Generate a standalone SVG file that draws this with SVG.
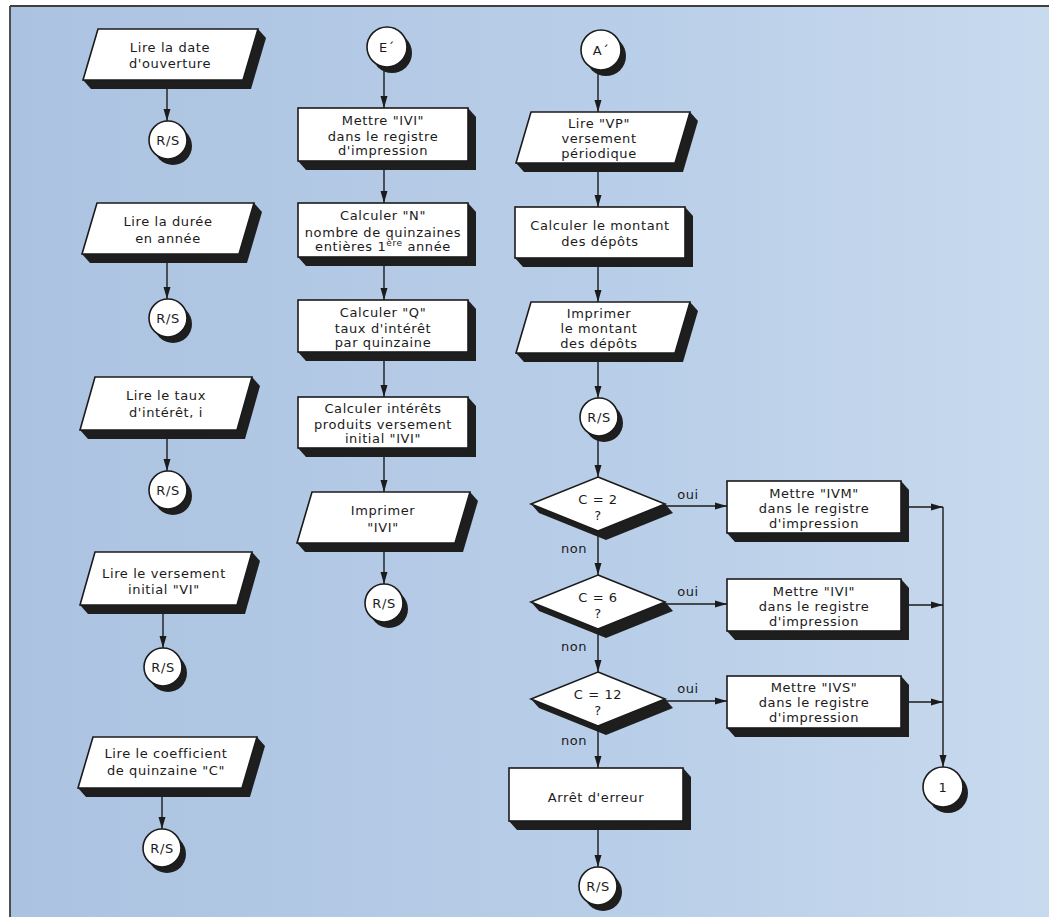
<svg xmlns="http://www.w3.org/2000/svg" width="1049" height="917" viewBox="0 0 1049 917">
<defs>
<linearGradient id="bg" x1="0" y1="0" x2="1" y2="0">
<stop offset="0" stop-color="#abc3e1"/>
<stop offset="0.6" stop-color="#b9cee8"/>
<stop offset="1" stop-color="#c8daee"/>
</linearGradient>
<marker id="ah" markerUnits="userSpaceOnUse" markerWidth="13" markerHeight="8" refX="12" refY="4" orient="auto">
<path d="M0,0.5 L12,4 L0,7.5 z" fill="#1b1b1b"/>
</marker>
<style>
.bx{fill:#fff;stroke:#1b1b1b;stroke-width:1.6}
.sh{fill:#1e1e1e}
.t{font-family:"DejaVu Sans",sans-serif;font-size:13px;letter-spacing:0.6px;fill:#1b1b1b;text-anchor:middle}
.lb{font-family:"DejaVu Sans",sans-serif;font-size:13px;letter-spacing:0.6px;fill:#1b1b1b;text-anchor:middle}
.c{stroke:#1b1b1b;stroke-width:1.4;fill:none;marker-end:url(#ah)}
.ln{stroke:#1b1b1b;stroke-width:1.4;fill:none}
</style>
</defs>
<rect x="0" y="0" width="1049" height="917" fill="#ffffff"/>
<rect x="10" y="6" width="1045" height="915" fill="url(#bg)"/>
<line x1="10" y1="6" x2="1049" y2="6" stroke="#3f3f3f" stroke-width="2"/>
<line x1="10" y1="6" x2="10" y2="917" stroke="#3f3f3f" stroke-width="1.8"/>

<g id="connectors">
<line class="c" x1="167" y1="80" x2="167" y2="121"/>
<line class="c" x1="167" y1="254" x2="167" y2="299"/>
<line class="c" x1="167" y1="430" x2="167" y2="471"/>
<line class="c" x1="163" y1="605" x2="163" y2="648"/>
<line class="c" x1="162" y1="788" x2="162" y2="829"/>
<line class="c" x1="384" y1="67" x2="384" y2="108"/>
<line class="c" x1="384" y1="161" x2="384" y2="203"/>
<line class="c" x1="384" y1="257" x2="384" y2="300"/>
<line class="c" x1="384" y1="352" x2="384" y2="397"/>
<line class="c" x1="384" y1="448" x2="384" y2="492"/>
<line class="c" x1="384" y1="543" x2="384" y2="584"/>
<line class="c" x1="598" y1="70" x2="598" y2="112"/>
<line class="c" x1="598" y1="163" x2="598" y2="207"/>
<line class="c" x1="598" y1="258" x2="598" y2="302"/>
<line class="c" x1="598" y1="353" x2="598" y2="398"/>
<line class="c" x1="598" y1="436" x2="598" y2="477"/>
<line class="c" x1="598" y1="531" x2="598" y2="575"/>
<line class="c" x1="598" y1="629" x2="598" y2="672"/>
<line class="c" x1="598" y1="726" x2="598" y2="768"/>
<line class="c" x1="598" y1="821" x2="598" y2="867"/>
<line class="c" x1="660" y1="506" x2="727" y2="506"/>
<line class="c" x1="660" y1="604" x2="727" y2="604"/>
<line class="c" x1="660" y1="701" x2="727" y2="701"/>
<line class="c" x1="901" y1="507" x2="943" y2="507"/>
<line class="c" x1="901" y1="605" x2="943" y2="605"/>
<line class="c" x1="901" y1="702" x2="943" y2="702"/>
<line class="c" x1="943" y1="507" x2="943" y2="767"/>
<text class="lb" x="688" y="499">oui</text>
<text class="lb" x="688" y="596">oui</text>
<text class="lb" x="688" y="693">oui</text>
<text class="lb" x="574" y="553">non</text>
<text class="lb" x="574" y="651">non</text>
<text class="lb" x="574" y="745">non</text>
</g>

<g id="l1">
<polygon class="sh" points="98,29 258,29 266,38 251,89 91,89 83,80"/>
<polygon class="bx" points="98,29 258,29 243,80 83,80"/>
<text class="t" x="170" y="51.5">Lire la date</text>
<text class="t" x="170" y="67.5">d'ouverture</text>
</g>
<g id="l1rs"><circle class="sh" cx="173" cy="146" r="19"/><circle class="bx" cx="168" cy="140" r="19"/><text class="t" x="168" y="144.5">R/S</text></g>

<g id="l2">
<polygon class="sh" points="97,203 254,203 262,212 247,263 90,263 82,254"/>
<polygon class="bx" points="97,203 254,203 239,254 82,254"/>
<text class="t" x="168" y="225.5">Lire la durée</text>
<text class="t" x="168" y="242.5">en année</text>
</g>
<g id="l2rs"><circle class="sh" cx="173" cy="324" r="19"/><circle class="bx" cx="168" cy="318" r="19"/><text class="t" x="168" y="322.5">R/S</text></g>

<g id="l3">
<polygon class="sh" points="95,377 252,377 260,386 245,439 88,439 80,430"/>
<polygon class="bx" points="95,377 252,377 237,430 80,430"/>
<text class="t" x="166" y="400">Lire le taux</text>
<text class="t" x="166" y="417">d'intérêt, i</text>
</g>
<g id="l3rs"><circle class="sh" cx="173" cy="496" r="19"/><circle class="bx" cx="168" cy="490" r="19"/><text class="t" x="168" y="494.5">R/S</text></g>

<g id="l4">
<polygon class="sh" points="95,552 252,552 260,561 245,614 88,614 80,605"/>
<polygon class="bx" points="95,552 252,552 237,605 80,605"/>
<text class="t" x="164" y="577.5">Lire le versement</text>
<text class="t" x="164" y="593.5">initial "VI"</text>
</g>
<g id="l4rs"><circle class="sh" cx="168" cy="673" r="19"/><circle class="bx" cx="163" cy="667" r="19"/><text class="t" x="163" y="671.5">R/S</text></g>

<g id="l5">
<polygon class="sh" points="93,737 257,737 265,746 250,797 86,797 78,788"/>
<polygon class="bx" points="93,737 257,737 242,788 78,788"/>
<text class="t" x="166" y="758">Lire le coefficient</text>
<text class="t" x="166" y="775">de quinzaine "C"</text>
</g>
<g id="l5rs"><circle class="sh" cx="167" cy="854" r="19"/><circle class="bx" cx="162" cy="848" r="19"/><text class="t" x="162" y="852.5">R/S</text></g>

<g id="e">
<circle class="sh" cx="392" cy="53" r="20"/><circle class="bx" cx="387" cy="47" r="20"/><text class="t" x="387" y="51.5">E´</text>
</g>
<g id="m1">
<polygon class="sh" points="298,108 468,108 476,117 476,170 306,170 298,161"/>
<rect class="bx" x="298" y="108" width="170" height="53"/>
<text class="t" x="383" y="124.5">Mettre "IVI"</text>
<text class="t" x="383" y="140.5">dans le registre</text>
<text class="t" x="383" y="155">d'impression</text>
</g>
<g id="m2">
<polygon class="sh" points="298,203 468,203 476,212 476,266 306,266 298,257"/>
<rect class="bx" x="298" y="203" width="170" height="54"/>
<text class="t" x="383" y="219.5">Calculer "N"</text>
<text class="t" x="383" y="236.5">nombre de quinzaines</text>
<text class="t" x="383" y="251">entières 1<tspan font-size="9" dy="-5">ère</tspan><tspan dy="5"> année</tspan></text>
</g>
<g id="m3">
<polygon class="sh" points="298,300 468,300 476,309 476,361 306,361 298,352"/>
<rect class="bx" x="298" y="300" width="170" height="52"/>
<text class="t" x="383" y="316.5">Calculer "Q"</text>
<text class="t" x="383" y="332.5">taux d'intérêt</text>
<text class="t" x="383" y="346.5">par quinzaine</text>
</g>
<g id="m4">
<polygon class="sh" points="298,397 468,397 476,406 476,457 306,457 298,448"/>
<rect class="bx" x="298" y="397" width="170" height="51"/>
<text class="t" x="383" y="412.5">Calculer intérêts</text>
<text class="t" x="383" y="428.5">produits versement</text>
<text class="t" x="383" y="442.5">initial "IVI"</text>
</g>
<g id="m5">
<polygon class="sh" points="312,492 470,492 478,501 463,552 305,552 297,543"/>
<polygon class="bx" points="312,492 470,492 455,543 297,543"/>
<text class="t" x="383" y="514.5">Imprimer</text>
<text class="t" x="383" y="531.5">"IVI"</text>
</g>
<g id="mrs"><circle class="sh" cx="389" cy="609" r="19"/><circle class="bx" cx="384" cy="603" r="19"/><text class="t" x="384" y="607.5">R/S</text></g>

<g id="a">
<circle class="sh" cx="606" cy="56" r="20"/><circle class="bx" cx="601" cy="50" r="20"/><text class="t" x="601" y="54.5">A´</text>
</g>
<g id="r1">
<polygon class="sh" points="531,112 690,112 698,121 683,172 524,172 516,163"/>
<polygon class="bx" points="531,112 690,112 675,163 516,163"/>
<text class="t" x="599" y="127.5">Lire "VP"</text>
<text class="t" x="599" y="142.5">versement</text>
<text class="t" x="599" y="157.5">périodique</text>
</g>
<g id="r2">
<polygon class="sh" points="515,207 685,207 693,216 693,267 523,267 515,258"/>
<rect class="bx" x="515" y="207" width="170" height="51"/>
<text class="t" x="600" y="229.5">Calculer le montant</text>
<text class="t" x="600" y="245.5">des dépôts</text>
</g>
<g id="r3">
<polygon class="sh" points="531,302 690,302 698,311 683,362 524,362 516,353"/>
<polygon class="bx" points="531,302 690,302 675,353 516,353"/>
<text class="t" x="599" y="317.5">Imprimer</text>
<text class="t" x="599" y="332.5">le montant</text>
<text class="t" x="599" y="347.5">des dépôts</text>
</g>
<g id="rrs"><circle class="sh" cx="604" cy="423" r="19"/><circle class="bx" cx="599" cy="417" r="19"/><text class="t" x="599" y="421.5">R/S</text></g>

<g id="d1">
<polygon class="sh" points="598,477 665,504 673,513 606,540 539,513 531,504"/>
<polygon class="bx" points="598,477 665,504 598,531 531,504"/>
<text class="t" x="598" y="503.5">C = 2</text>
<text class="t" x="598" y="519.5">?</text>
</g>
<g id="d2">
<polygon class="sh" points="598,575 665,602 673,611 606,638 539,611 531,602"/>
<polygon class="bx" points="598,575 665,602 598,629 531,602"/>
<text class="t" x="598" y="601.5">C = 6</text>
<text class="t" x="598" y="617.5">?</text>
</g>
<g id="d3">
<polygon class="sh" points="598,672 665,699 673,708 606,735 539,708 531,699"/>
<polygon class="bx" points="598,672 665,699 598,726 531,699"/>
<text class="t" x="598" y="698.5">C = 12</text>
<text class="t" x="598" y="714.5">?</text>
</g>
<g id="b1">
<polygon class="sh" points="727,481 901,481 909,490 909,542 735,542 727,533"/>
<rect class="bx" x="727" y="481" width="174" height="52"/>
<text class="t" x="814" y="497.5">Mettre "IVM"</text>
<text class="t" x="814" y="512.5">dans le registre</text>
<text class="t" x="814" y="527.5">d'impression</text>
</g>
<g id="b2">
<polygon class="sh" points="727,579 901,579 909,588 909,640 735,640 727,631"/>
<rect class="bx" x="727" y="579" width="174" height="52"/>
<text class="t" x="814" y="595.5">Mettre "IVI"</text>
<text class="t" x="814" y="610.5">dans le registre</text>
<text class="t" x="814" y="625.5">d'impression</text>
</g>
<g id="b3">
<polygon class="sh" points="727,676 901,676 909,685 909,737 735,737 727,728"/>
<rect class="bx" x="727" y="676" width="174" height="52"/>
<text class="t" x="814" y="691.5">Mettre "IVS"</text>
<text class="t" x="814" y="706.5">dans le registre</text>
<text class="t" x="814" y="721.5">d'impression</text>
</g>
<g id="err">
<polygon class="sh" points="509,768 683,768 691,777 691,830 517,830 509,821"/>
<rect class="bx" x="509" y="768" width="174" height="53"/>
<text class="t" x="596" y="801.5">Arrêt d'erreur</text>
</g>
<g id="errrs"><circle class="sh" cx="603" cy="892" r="19"/><circle class="bx" cx="598" cy="886" r="19"/><text class="t" x="598" y="890.5">R/S</text></g>
<g id="one"><circle class="sh" cx="948" cy="793" r="20"/><circle class="bx" cx="943" cy="787" r="20"/><text class="t" x="943" y="791.5">1</text></g>
</svg>
